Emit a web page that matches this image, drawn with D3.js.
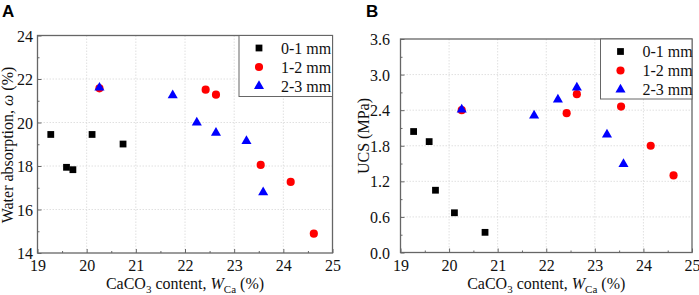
<!DOCTYPE html>
<html><head><meta charset="utf-8">
<script src="https://cdn.jsdelivr.net/npm/d3@7"></script>
<style>
body{margin:0;background:#fff}svg{display:block}
svg text{font-family:"Liberation Serif","Times New Roman",Tinos,serif;fill:#111}
svg text.letter{font-family:"Liberation Sans",Arial,sans-serif;font-weight:bold;fill:#000}
</style>
</head><body>
<svg id="c" width="699" height="295"></svg>
<script>
const series = ["0-1 mm", "1-2 mm", "2-3 mm"];
const colors = ["#000000", "#ff0000", "#0000ff"];
// CaCO3 content (x) per series
const x01 = [19.27, 19.59, 19.72, 20.11, 20.74];
const x12 = [20.26, 22.42, 22.63, 23.54, 24.15, 24.62];
const x23 = [20.26, 21.75, 22.24, 22.63, 23.25, 23.59];
// Panel A: water absorption (%)
const wa01 = [19.45, 17.94, 17.83, 19.45, 19.01];
const wa12 = [21.57, 21.51, 21.28, 18.05, 17.27, 14.89];
const wa23 = [21.60, 21.25, 20.00, 19.53, 19.15, 16.79];
// Panel B: UCS (MPa)
const ucs01 = [2.04, 1.87, 1.05, 0.67, 0.34];
const ucs12 = [2.40, 2.35, 2.67, 2.46, 1.80, 1.30];
const ucs23 = [2.41, 2.31, 2.58, 2.78, 1.99, 1.49];
const xTicks = [19, 20, 21, 22, 23, 24, 25];
const yTicksA = [14, 16, 18, 20, 22, 24];
const yTicksB = [0.0, 0.6, 1.2, 1.8, 2.4, 3.0, 3.6];

const svg = d3.select("#c");
const frame = "#666";

function panel(o) {
  const g = svg.append("g");
  const x = d3.scaleLinear().domain([19, 25]).range([o.l, o.r]);
  const y = d3.scaleLinear().domain(o.yDom).range([o.b, o.t]);
  // grid
  g.append("g").selectAll("line").data(xTicks.slice(1, -1)).join("line")
    .attr("x1", d => x(d)).attr("x2", d => x(d)).attr("y1", o.t).attr("y2", o.b)
    .attr("stroke", "#d8d8d8").attr("stroke-width", 0.8).attr("stroke-dasharray", "1.5,1.5");
  g.append("g").selectAll("line").data(o.yTicks.slice(1, -1)).join("line")
    .attr("y1", d => y(d)).attr("y2", d => y(d)).attr("x1", o.l).attr("x2", o.r)
    .attr("stroke", "#d8d8d8").attr("stroke-width", 0.8).attr("stroke-dasharray", "1.5,1.5");
  // axes
  const xa = g.append("g").attr("transform", `translate(0,${o.b})`)
    .call(d3.axisBottom(x).tickValues(xTicks).tickSize(-4).tickPadding(7).tickFormat(d3.format("d")));
  const xm = g.append("g").attr("transform", `translate(0,${o.b})`)
    .call(d3.axisBottom(x).tickValues(d3.range(19.5, 25, 1)).tickSize(-2).tickFormat(""));
  const ya = g.append("g").attr("transform", `translate(${o.l},0)`)
    .call(d3.axisLeft(y).tickValues(o.yTicks).tickSize(-4).tickPadding(o.ypad).tickFormat(o.fmt));
  const mStep = (o.yTicks[1] - o.yTicks[0]) / 2;
  const ym = g.append("g").attr("transform", `translate(${o.l},0)`)
    .call(d3.axisLeft(y).tickValues(o.yTicks.slice(0, -1).map(v => v + mStep)).tickSize(-2).tickFormat(""));
  [xa, xm, ya, ym].forEach(a => {
    a.attr("font-family", null).attr("font-size", null);
    a.select(".domain").remove();
    a.selectAll("line").attr("stroke", frame);
    a.selectAll("text").style("font-size", "16px").attr("fill", null);
  });
  ya.selectAll("text").attr("dy", "0.35em");
  g.append("rect").attr("x", o.l).attr("y", o.t).attr("width", o.r - o.l).attr("height", o.b - o.t)
    .attr("fill", "none").attr("stroke", frame).attr("stroke-width", 1.3);
  // points
  const sq = d3.symbol().type(d3.symbolSquare).size(46);
  const ci = d3.symbol().type(d3.symbolCircle).size(52);
  const tr = d3.symbol().type(d3.symbolTriangle).size(44);
  const shapes = [sq, ci, tr];
  const xs = [x01, x12, x23];
  o.ys.forEach((ys, si) => {
    g.append("g").selectAll("path").data(ys).join("path")
      .attr("d", shapes[si]())
      .attr("transform", (d, i) => `translate(${x(xs[si][i])},${y(d)})`)
      .attr("fill", colors[si]);
  });
  // legend
  const lg = g.append("g");
  lg.append("rect").attr("x", o.legX).attr("y", o.t).attr("width", o.r - o.legX).attr("height", o.legH)
    .attr("fill", "#fff").attr("stroke", frame).attr("stroke-width", 1);
  series.forEach((s, i) => {
    const yy = o.t + 12.5 + i * 19;
    lg.append("path").attr("d", shapes[i]()).attr("transform", `translate(${o.legX + 20},${yy})`).attr("fill", colors[i]);
    lg.append("text").attr("x", o.legX + 42).attr("y", yy + 5.5).text(s).style("font-size", "16px");
  });
  // x title
  const xt = g.append("text").attr("x", (o.l + o.r) / 2).attr("y", 288.5).attr("text-anchor", "middle")
    .style("font-size", "16px");
  xt.append("tspan").text("CaCO");
  xt.append("tspan").text("3").style("font-size", "11px").attr("dy", 4);
  xt.append("tspan").text(" content, ").attr("dy", -4);
  xt.append("tspan").text("W").style("font-style", "italic");
  xt.append("tspan").text("Ca").style("font-size", "11px").attr("dy", 4);
  xt.append("tspan").text(" (%)").attr("dy", -4);
  // y title
  const yt = g.append("text").attr("transform", `translate(${o.ytx},${o.yty}) rotate(-90)`)
    .attr("text-anchor", "middle").style("font-size", "16px");
  o.ytitle.forEach(p => { const t = yt.append("tspan").text(p[0]); if (p[1]) t.style("font-style", "italic"); });
  // panel letter
  svg.append("text").attr("class", "letter").attr("x", o.lx).attr("y", 16.5).text(o.letter)
    .style("font-size", "17px");
}

panel({l: 37.5, r: 332.5, t: 35.5, b: 253, yDom: [14, 24], yTicks: yTicksA, fmt: d3.format("d"), ypad: 4.5,
  ys: [wa01, wa12, wa23], legX: 239, legH: 61, ytx: 13, yty: 145, lx: 2, letter: "A",
  ytitle: [["Water absorption, "], ["ω", true], [" (%)"]]});
panel({l: 400.5, r: 692, t: 39, b: 252.5, yDom: [0, 3.6], yTicks: yTicksB, fmt: d3.format(".1f"), ypad: 10.5,
  ys: [ucs01, ucs12, ucs23], legX: 600.5, legH: 60, ytx: 369, yty: 136, lx: 366, letter: "B",
  ytitle: [["UCS (MPa)"]]});
</script>
</body></html>
